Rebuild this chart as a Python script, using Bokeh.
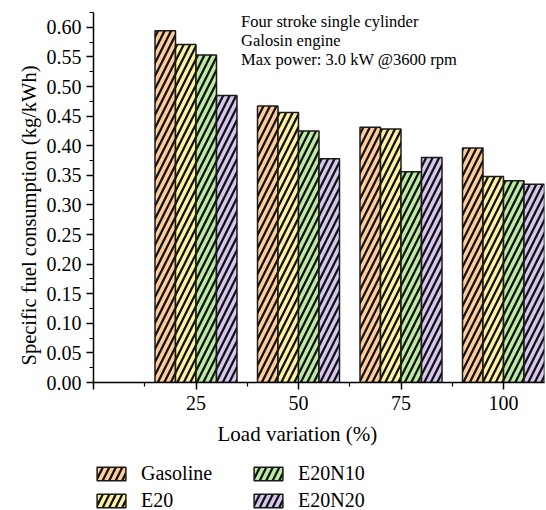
from bokeh.plotting import figure
from bokeh.layouts import column
from bokeh.models import (ColumnDataSource, Range1d, FixedTicker, PrintfTickFormatter,
                          Legend, LegendItem, Title)
from bokeh.transform import dodge
from bokeh.core.properties import value
from bokeh.embed import file_html
from bokeh.resources import INLINE

loads = [25, 50, 75, 100]
gasoline = [0.594, 0.467, 0.431, 0.396]
e20 = [0.571, 0.456, 0.428, 0.348]
e20n10 = [0.553, 0.425, 0.356, 0.341]
e20n20 = [0.485, 0.378, 0.380, 0.335]
series_names = ["Gasoline", "E20", "E20N10", "E20N20"]
series_colors = ["#FFCC99", "#FFF2A0", "#BBEBA3", "#D6C6EE"]
note_lines = ["Four stroke single cylinder", "Galosin engine", "Max power: 3.0 kW @3600 rpm"]
x_ticks = [0, 25, 50, 75, 100]
x_minor = [12.5, 37.5, 62.5, 87.5]
y_ticks = [round(0.05 * i, 2) for i in range(13)]
y_minor = [round(0.025 + 0.05 * i, 3) for i in range(13)]

FONT = "Liberation Serif"
HATCH = dict(hatch_pattern="/", hatch_color="#111111", hatch_scale=13, hatch_weight=2.3)

src = ColumnDataSource(dict(load=loads, Gasoline=gasoline, E20=e20,
                            E20N10=e20n10, E20N20=e20n20))

p = figure(width=546, height=458, x_range=Range1d(0, 110), y_range=Range1d(0, 0.625),
           output_backend="svg", toolbar_location=None,
           min_border_left=93, min_border_right=2, min_border_top=12, min_border_bottom=76)
p.outline_line_color = None
p.grid.visible = False

offsets = [-7.5, -2.5, 2.5, 7.5]
for name, col, off in zip(series_names, series_colors, offsets):
    p.vbar(x=dodge("load", off, range=p.x_range), top=name, width=5, source=src,
           fill_color=col, line_color="#1a1a1a", line_width=1.5, **HATCH)

# annotation text
p.text(x=[36, 36, 36], y=[0.609, 0.577, 0.545], text=note_lines,
       text_font=value(FONT), text_font_size="16.5px", text_color="black",
       text_baseline="middle", text_align="left")

for ax in (p.xaxis[0], p.yaxis[0]):
    ax.axis_line_color = "black"
    ax.axis_line_width = 1.5
    ax.major_tick_line_color = "black"
    ax.minor_tick_line_color = "black"
    ax.major_tick_line_width = 1.5
    ax.minor_tick_line_width = 1.2
    ax.major_tick_in = 0
    ax.major_tick_out = 7
    ax.minor_tick_in = 0
    ax.minor_tick_out = 4
    ax.major_label_text_font = FONT
    ax.major_label_text_font_size = "20px"
    ax.major_label_text_color = "black"

p.xaxis.ticker = FixedTicker(ticks=x_ticks, minor_ticks=x_minor)
p.xaxis.major_label_overrides = {0: ""}
p.xaxis.major_label_standoff = 6
p.yaxis.ticker = FixedTicker(ticks=y_ticks, minor_ticks=y_minor)
p.yaxis.formatter = PrintfTickFormatter(format="%.2f")
p.yaxis.major_label_standoff = 5

p.add_layout(Title(text="Specific fuel consumption (kg/kWh)", align="left", offset=17,
                   text_font=FONT, text_font_size="20.5px", text_font_style="normal",
                   text_color="black", standoff=8), "left")
p.add_layout(Title(text="Load variation (%)", align="left", offset=124,
                   text_font=FONT, text_font_size="21px", text_font_style="normal",
                   text_color="black", standoff=14), "below")

# legend figure below the chart (hidden proxy bars, only the legend shows)
lf = figure(width=546, height=52, x_range=Range1d(200, 300), y_range=Range1d(1, 2),
            output_backend="svg", toolbar_location=None, x_axis_type=None, y_axis_type=None,
            min_border=0)
lf.outline_line_color = None
lf.grid.visible = False
proxies = [lf.vbar(x="load", top=name, width=1, source=src, fill_color=c,
                   line_color="#1a1a1a", line_width=1.5, visible=False, **HATCH)
           for name, c in zip(series_names, series_colors)]

def make_legend(idx, loc):
    items = [LegendItem(label=series_names[i], renderers=[proxies[i]]) for i in idx]
    return Legend(items=items, location=loc, orientation="vertical",
                  glyph_width=36, glyph_height=17, label_standoff=12, spacing=4,
                  label_height=21, padding=0, margin=0, border_line_color=None,
                  background_fill_alpha=0, inactive_fill_alpha=0, label_text_font=FONT,
                  label_text_font_size="20px", label_text_color="black")

lf.add_layout(make_legend([0, 1], (0, -2)))
lf.add_layout(make_legend([2, 3], (157, -2)))

open("out.html", "w").write(file_html(column(p, lf, spacing=0), INLINE))
